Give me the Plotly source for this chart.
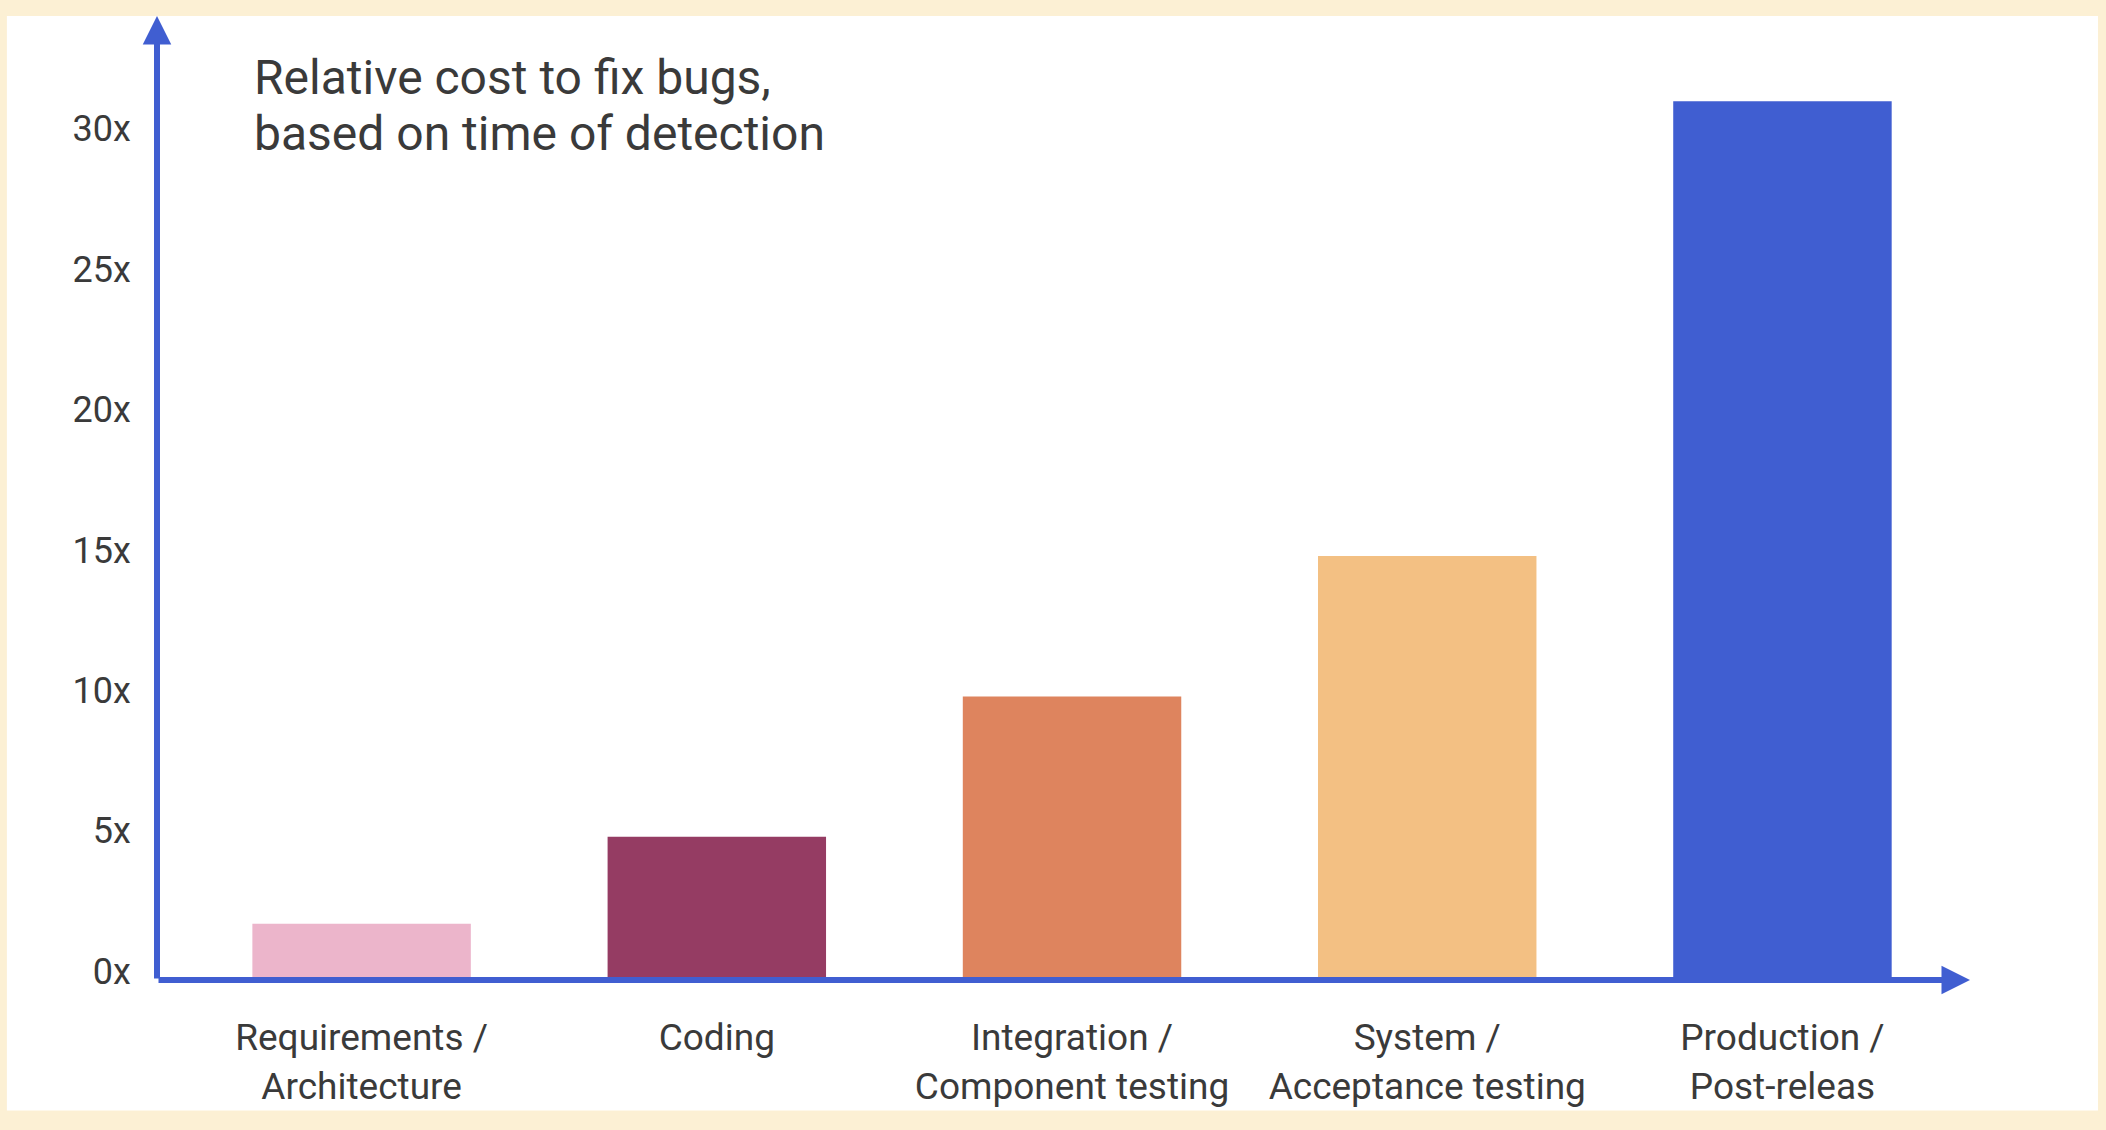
import plotly.graph_objects as go

# Colors used by the chart
bar_colors = ['#ECB5CB', '#953C63', '#DE845E', '#F3C083', '#405ED1']
axis_color = '#405ED1'
text_color = '#3A3A3A'
border_color = '#FCF0D4'

stages = [
    'Requirements /<br>Architecture',
    'Coding',
    'Integration /<br>Component testing',
    'System /<br>Acceptance testing',
    'Production /<br>Post-releas',
]
relative_cost = [2.0, 5.1, 10.1, 15.1, 31.3]

y_ticks = [0, 5, 10, 15, 20, 25, 30]
y_tick_labels = ['0x', '5x', '10x', '15x', '20x', '25x', '30x']

title_lines = ['Relative cost to fix bugs,', 'based on time of detection']

x_range = [-0.576, 4.528]
y_range = [0, 34.34]


def axis_arrow(x0, y0, x1, y1):
    """
    Arrow drawn from (x0, y0) to (x1, y1) in data coordinates.
    """
    return dict(
        x=x1, y=y1, ax=x0, ay=y0,
        xref='x', yref='y', axref='x', ayref='y',
        text='', showarrow=True,
        arrowhead=2, arrowsize=0.95, arrowwidth=6,
        arrowcolor=axis_color, standoff=0, startstandoff=0,
    )


def main():
    fig = go.Figure()

    fig.add_trace(go.Bar(
        x=list(range(len(stages))),
        y=relative_cost,
        marker=dict(color=bar_colors, line=dict(width=0)),
        hoverinfo='skip',
    ))

    # white card on the beige page
    fig.add_shape(
        type='rect', xref='paper', yref='paper', layer='below',
        x0=-0.0828, x1=1.0706, y0=-0.1354, y1=1.0,
        fillcolor='white', line=dict(width=0),
    )

    fig.add_annotation(axis_arrow(x_range[0], 0, x_range[0], y_range[1]))
    fig.add_annotation(axis_arrow(x_range[0], 0, x_range[1], 0))

    # title, one annotation per line to keep the tighter line spacing
    for line, y in zip(title_lines, [0.9357, 0.8786]):
        fig.add_annotation(
            text=line,
            xref='paper', yref='paper', x=0.0525, y=y,
            xanchor='left', yanchor='middle', align='left', showarrow=False,
            font=dict(size=48, color=text_color),
        )

    fig.update_layout(
        width=2106,
        height=1130,
        margin=dict(l=157, r=136, t=16, b=150),
        paper_bgcolor=border_color,
        plot_bgcolor='white',
        bargap=0.385,
        showlegend=False,
        font=dict(family='Roboto, Inter, sans-serif', color=text_color),
        xaxis=dict(
            range=x_range,
            tickmode='array',
            tickvals=list(range(len(stages))),
            ticktext=stages,
            tickfont=dict(size=37, color=text_color),
            ticks='outside', ticklen=25, tickcolor='rgba(0,0,0,0)',
            showgrid=False, zeroline=False, showline=False,
        ),
        yaxis=dict(
            range=y_range,
            tickmode='array',
            tickvals=y_ticks,
            ticktext=y_tick_labels,
            tickfont=dict(size=36, color=text_color),
            ticks='outside', ticklen=18, tickcolor='rgba(0,0,0,0)',
            ticklabelshift=-9,
            showgrid=False, zeroline=False, showline=False,
        ),
    )

    fig.write_html(
        'out.html',
        config={'displayModeBar': False},
        post_script="document.body.style.margin='0';",
    )


if __name__ == '__main__':
    main()
